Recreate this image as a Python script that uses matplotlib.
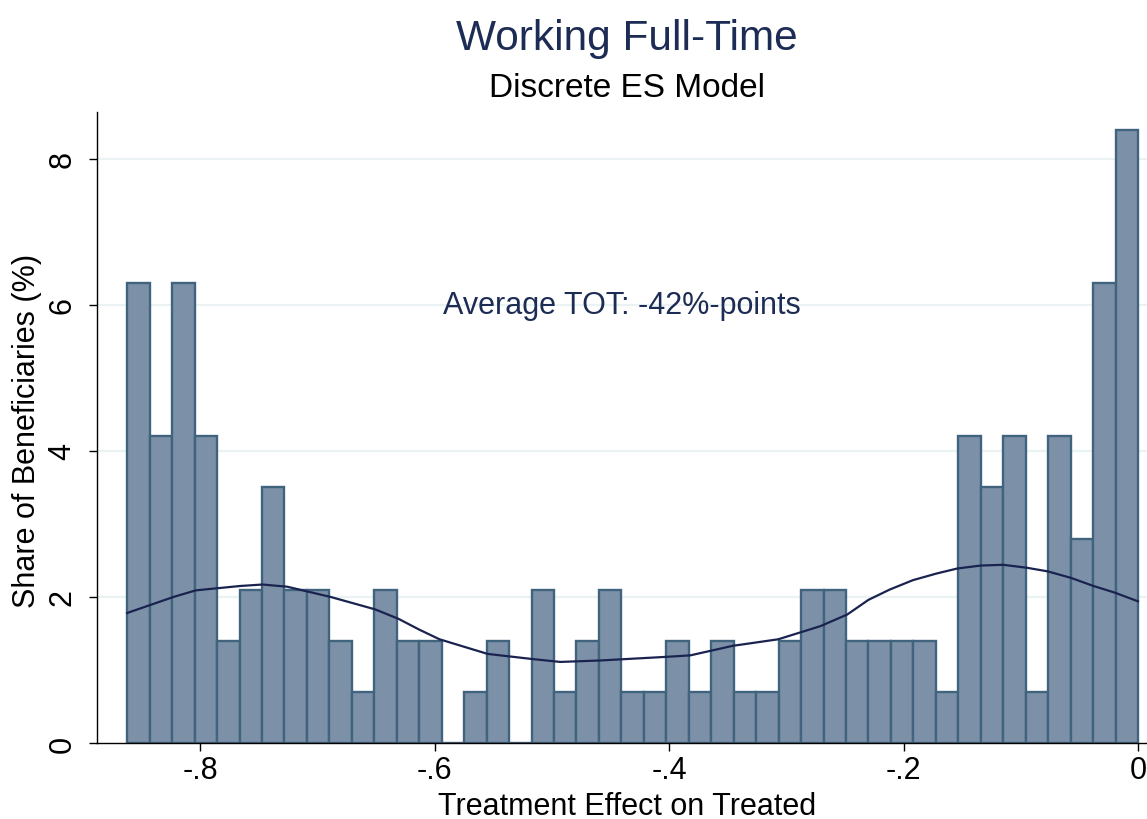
import numpy as np
import matplotlib
matplotlib.use("Agg")
import matplotlib.pyplot as plt

plt.rcParams["font.family"] = ["Liberation Sans", "DejaVu Sans"]

# histogram: share of beneficiaries (%) per bin, left to right
shares = [6.3, 4.2, 6.3, 4.2, 1.4, 2.1, 3.5, 2.1, 2.1, 1.4,
          0.7, 2.1, 1.4, 1.4, 0.0, 0.7, 1.4, 0.0, 2.1, 0.7,
          1.4, 2.1, 0.7, 0.7, 1.4, 0.7, 1.4, 0.7, 0.7, 1.4,
          2.1, 2.1, 1.4, 1.4, 1.4, 1.4, 0.7, 4.2, 3.5, 4.2,
          0.7, 4.2, 2.8, 6.3, 8.4]
bin_lo = -0.8625
bin_hi = 0.0

# kernel density curve
kd_x = [-0.8626, -0.823, -0.804, -0.766, -0.747, -0.726, -0.689, -0.651,
        -0.631, -0.613, -0.596, -0.555, -0.517, -0.493, -0.459, -0.402,
        -0.382, -0.346, -0.307, -0.271, -0.248, -0.230, -0.212, -0.192,
        -0.172, -0.154, -0.134, -0.115, -0.095, -0.077, -0.057, -0.038,
        -0.020, 0.0]
kd_y = [1.78, 2.00, 2.09, 2.15, 2.17, 2.14, 2.00, 1.83,
        1.70, 1.55, 1.42, 1.22, 1.15, 1.11, 1.13, 1.18,
        1.20, 1.33, 1.42, 1.60, 1.76, 1.96, 2.10, 2.23,
        2.32, 2.39, 2.43, 2.44, 2.40, 2.35, 2.26, 2.15,
        2.06, 1.94]

xticks = [-0.8, -0.6, -0.4, -0.2, 0.0]
xticklabels = ["-.8", "-.6", "-.4", "-.2", "0"]
yticks = [0, 2, 4, 6, 8]

navy = "#1d2c54"

fig = plt.figure(figsize=(11.47, 8.2), dpi=100)
ax = fig.add_axes([97 / 1147, 76 / 820, 1050 / 1147, 631 / 820])

width = (bin_hi - bin_lo) / len(shares)
lefts = bin_lo + width * np.arange(len(shares))
ax.bar(lefts, shares, width=width, align="edge", color="#7c91a8",
       edgecolor="#40637e", linewidth=1.7, zorder=2)
ax.plot(kd_x, kd_y, color="#1a2350", linewidth=1.6, zorder=3)

for y in yticks[1:]:
    ax.axhline(y, color="#eaf2f3", linewidth=1.6, zorder=0)

ax.text(-0.44, 6.0, "Average TOT: -42%-points", color=navy, fontsize=22,
        ha="center", va="center", zorder=4)

ax.set_xlim(-0.8883, 0.0077)
ax.set_ylim(0, 8.64)
ax.set_xticks(xticks)
ax.set_xticklabels(xticklabels)
ax.set_yticks(yticks)
ax.set_yticklabels([str(v) for v in yticks], rotation=90, va="center")
ax.tick_params(axis="both", labelsize=22, length=6, width=1.0, direction="out")
ax.tick_params(axis="x", pad=3)
ax.tick_params(axis="y", pad=8)

for s in ["top", "right"]:
    ax.spines[s].set_visible(False)
for s in ["left", "bottom"]:
    ax.spines[s].set_linewidth(1.0)

fig.text(627 / 1147, 1 - 50 / 820, "Working Full-Time", color=navy,
         fontsize=30.5, ha="center", va="baseline")
fig.text(627 / 1147, 1 - 97 / 820, "Discrete ES Model", color="black",
         fontsize=24, ha="center", va="baseline")
fig.text(627 / 1147, 1 - 815 / 820, "Treatment Effect on Treated",
         fontsize=22, ha="center", va="baseline")
fig.text(27 / 1147, 1 - 431 / 820, "Share of Beneficiaries (%)",
         fontsize=22, ha="center", va="center", rotation=90)

fig.savefig("out.png", dpi=100, facecolor="white")
